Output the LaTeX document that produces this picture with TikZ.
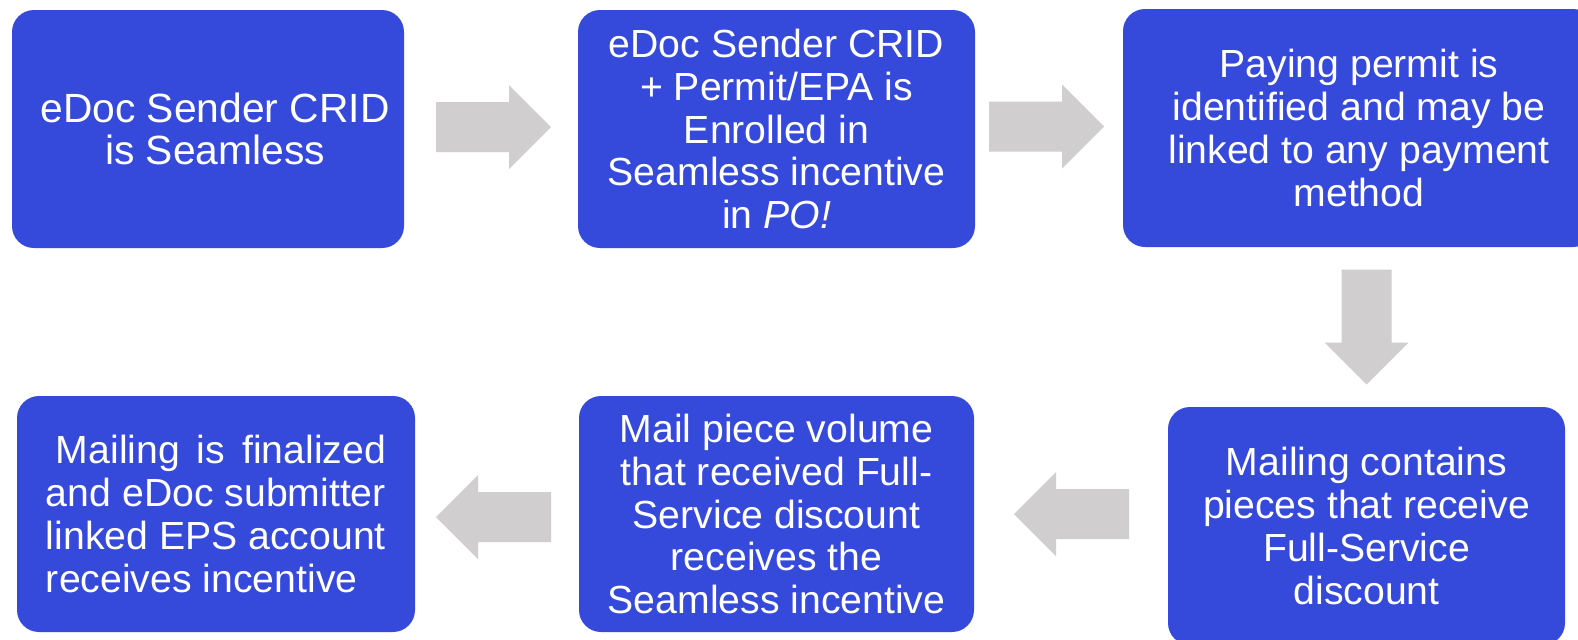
\documentclass[tikz,border=0pt]{standalone}
\usepackage{fontspec}
\setmainfont{Liberation Sans}
\usetikzlibrary{calc}
\definecolor{boxblue}{RGB}{53,73,219}
\definecolor{arrowgray}{RGB}{208,206,206}
\tikzset{
  stepbox/.style={fill=boxblue, draw=none, rounded corners=11pt, text=white,
    font=\fontsize{19.6}{21.4}\selectfont, align=center, inner sep=0pt},
}
\newcommand{\blockarrow}[2]{%
  \fill[arrowgray, shift={(#1)}, rotate=#2]
    (-57.5,-25) -- (15.5,-25) -- (15.5,-42) -- (57.5,0) -- (15.5,42) -- (15.5,25) -- (-57.5,25) -- cycle;}
\begin{document}
\begin{tikzpicture}[x=0.5pt, y=-0.5pt]
\useasboundingbox (0,0) rectangle (1578,639);
\fill[white] (0,0) rectangle (1578,639);
\clip (0,0) rectangle (1578,639);

\node[stepbox, minimum width=196pt, minimum height=119pt, font=\fontsize{20.4}{21.4}\selectfont] (b1) at (208,129)
  {\hspace*{7pt}eDoc Sender CRID\\\hspace*{7pt}is Seamless};
\node[stepbox, minimum width=198.5pt, minimum height=119pt] (b2) at (776.5,129)
  {eDoc Sender CRID\\+ Permit/EPA is\\Enrolled in\\Seamless incentive\\in \textit{PO!}};
\node[stepbox, minimum width=236pt, minimum height=119pt] (b3) at (1359,128)
  {Paying permit is\\identified and may be\\linked to any payment\\method};
\node[stepbox, minimum width=198.5pt, minimum height=119pt] (b4) at (1366.5,526)
  {Mailing contains\\pieces that receive\\Full-Service\\discount};
\node[stepbox, minimum width=197.5pt, minimum height=118pt] (b5) at (776.5,514)
  {Mail piece volume\\that received Full-\\Service discount\\receives the\\Seamless incentive};
\node[stepbox, minimum width=199pt, minimum height=118pt, align=left] (b6) at (216,514)
  {\hspace*{5pt}\makebox[165pt][s]{Mailing is finalized}\\and eDoc submitter\\linked EPS account\\receives incentive};

\blockarrow{$(b1.east)!0.5!(b2.west)+(2.5,-2)$}{0}
\blockarrow{$(b2.east)!0.5!(b3.west)+(-2.5,-2)$}{0}
\coordinate (d1) at ($(b3.south)!0.5!(b4.north)$);
\blockarrow{$(b4.north |- d1)$}{-90}
\blockarrow{$(b4.west)!0.5!(b5.east)+(0.5,-6)$}{180}
\blockarrow{$(b5.west)!0.5!(b6.east)+(-3.5,3)$}{180}
\end{tikzpicture}
\end{document}
